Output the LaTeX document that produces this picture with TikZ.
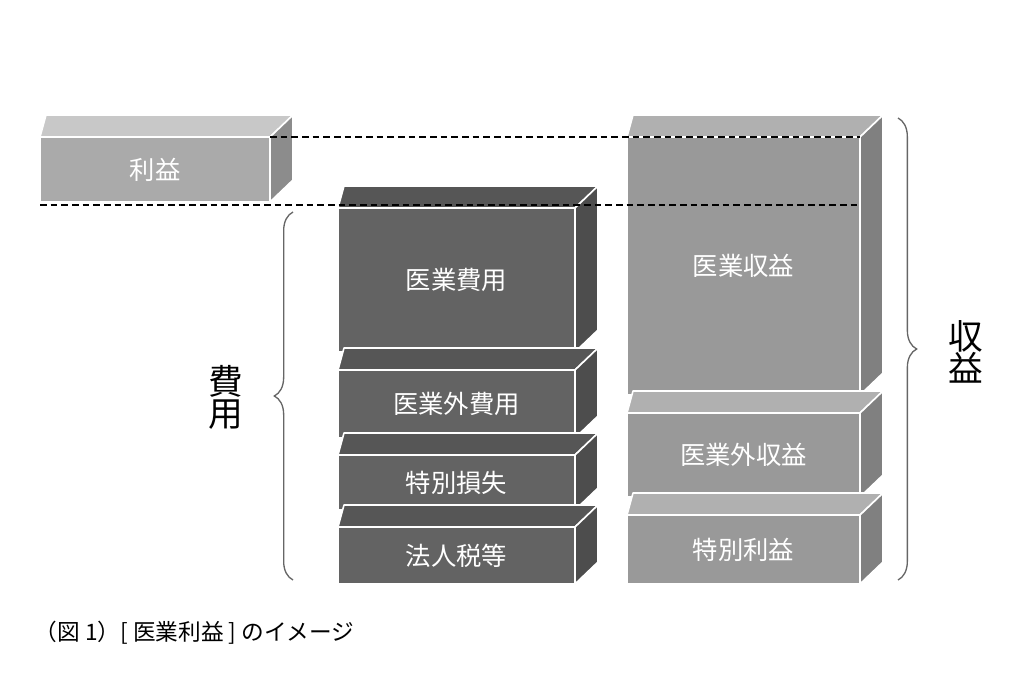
\documentclass[tikz,border=0pt]{standalone}
\usepackage{fontspec}
\setmainfont{Noto Sans CJK JP}
\usetikzlibrary{decorations.pathreplacing,positioning}
\definecolor{RevFront}{HTML}{999999}
\definecolor{RevTop}{HTML}{B0B0B0}
\definecolor{RevSide}{HTML}{808080}
\definecolor{ExpFront}{HTML}{636363}
\definecolor{ExpTop}{HTML}{565656}
\definecolor{ExpSide}{HTML}{4D4D4D}
\definecolor{ProFront}{HTML}{AAAAAA}
\definecolor{ProTop}{HTML}{C8C8C8}
\definecolor{ProSide}{HTML}{8C8C8C}
\tikzset{
	face/.style={draw=white, line width=1.2pt, line join=round},
	blocktext/.style={text=white, font=\fontsize{19}{19}\selectfont},
	brace/.style={decorate, decoration={brace, amplitude=14pt}, draw=gray!80!black, line width=1pt},
	sidetext/.style={font=\fontsize{26}{28}\selectfont, align=center}
}
% #1,#2 front top-left; #3,#4 front bottom-right; #5 colour prefix; #6 name; #7 text
\newcommand{\drawblock}[7]{%
	\fill[#5Top, face] (#1,#2) -- (#1+6,#2-22) -- (#3+23,#2-22) -- (#3,#2) -- cycle;
	\fill[#5Side, face] (#3,#2) -- (#3+23,#2-22) -- (#3+23,#4-22) -- (#3,#4) -- cycle;
	\fill[#5Front, face] (#1,#2) rectangle (#3,#4);
	\node[blocktext] (#6) at ({(#1+#3)/2},{(#2+#4)/2}) {#7};
}
\begin{document}
\begin{tikzpicture}[x=0.75pt,y=-0.75pt]
	\useasboundingbox (0,0) rectangle (1024,678);
	%
	%profit
	\drawblock{40}{137}{270}{202}{Pro}{profit}{利益}
	%expenses
	\drawblock{338}{208}{575}{352}{Exp}{opexp}{医業費用}
	\drawblock{338}{370}{575}{438}{Exp}{nonopexp}{医業外費用}
	\drawblock{338}{455}{575}{510}{Exp}{loss}{特別損失}
	\drawblock{338}{527}{575}{584}{Exp}{tax}{法人税等}
	%revenue
	\drawblock{627}{137}{860}{395}{Rev}{oprev}{医業収益}
	\drawblock{627}{413}{860}{497}{Rev}{nonoprev}{医業外収益}
	\drawblock{627}{515}{860}{584}{Rev}{gain}{特別利益}
	\node at (oprev.center) [blocktext, yshift=-0.75*(-2pt)] {};
	%
	\coordinate (p1) at (270,137);
	\coordinate (p2) at (860,137);
	\coordinate (q1) at (40,205);
	\coordinate (q2) at (860,205);
	\draw[dashed, line width=1.3pt, dash pattern=on 5pt off 3pt] (p1) -- (p2);
	\draw[dashed, line width=1.3pt, dash pattern=on 5pt off 3pt] (q1) -- (q2);
	%
	\coordinate (b1) at (293,580);
	\coordinate (b2) at (293,212);
	\coordinate (c1) at (898,118);
	\coordinate (c2) at (898,580);
	\draw[brace] (b1) -- (b2);
	\draw[brace] (c1) -- (c2);
	\node[sidetext] (cost) at (226,397) {費\\[-4pt]用};
	\node[sidetext] (rev) at (966,352) {収\\[-4pt]益};
	%
	\node[anchor=west, font=\fontsize{17}{17}\selectfont] (caption) at (30,633) {（図 1）[ 医業利益 ] のイメージ};
\end{tikzpicture}
\end{document}
